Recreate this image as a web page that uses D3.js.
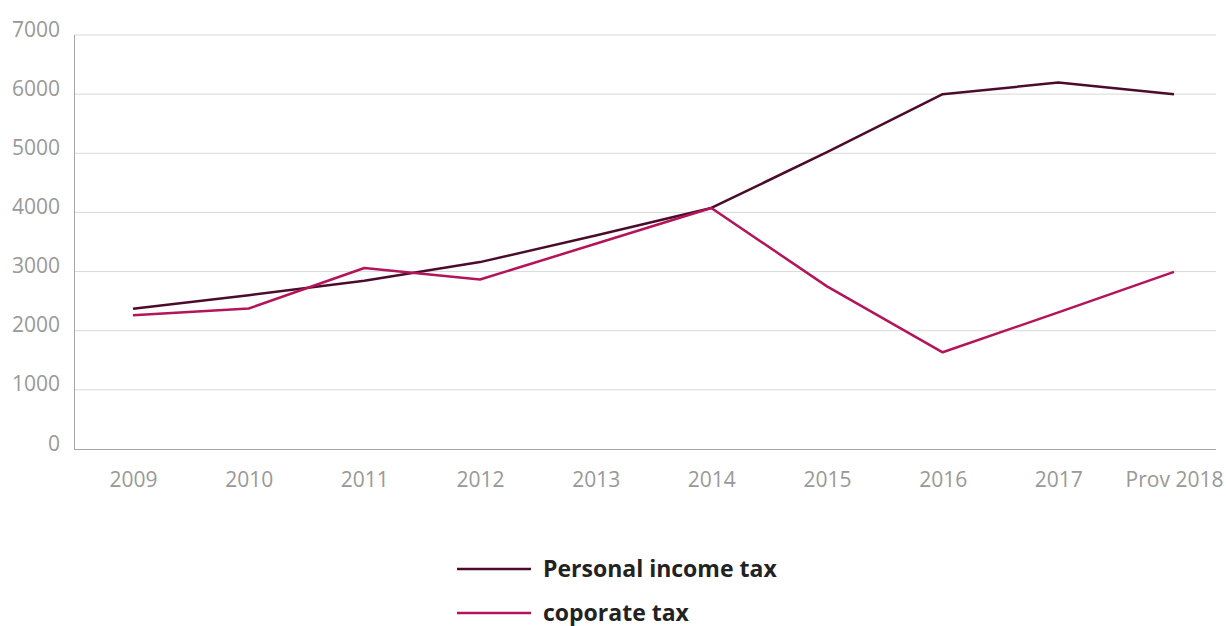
<!DOCTYPE html>
<html>
<head>
<meta charset="utf-8">
<script src="https://cdn.jsdelivr.net/npm/d3@7"></script>
<style>
  html, body { margin: 0; padding: 0; background: #fff; }
  svg { display: block; }
</style>
</head>
<body>
<svg id="chart" width="1226" height="626"></svg>
<script>
const categories = ["2009", "2010", "2011", "2012", "2013", "2014", "2015", "2016", "2017", "Prov 2018"];
const personalIncomeTax = [2370, 2600, 2845, 3160, 3610, 4075, 5020, 6000, 6195, 6000];
const corporateTax = [2260, 2375, 3060, 2865, 3470, 4075, 2750, 1635, 2310, 2995];
const yTicks = [0, 1000, 2000, 3000, 4000, 5000, 6000, 7000];
const seriesNames = ["Personal income tax", "coporate tax"];
const seriesColors = ["#4b0c2c", "#b3145a"];

const svg = d3.select("#chart");
const plotLeft = 74, plotRight = 1216, plotTop = 35, plotBottom = 449;

const x = d3.scalePoint().domain(categories).range([133, 1174]);
const y = d3.scaleLinear().domain([0, 7000]).range([plotBottom, plotTop]);

// gridlines
svg.append("g").selectAll("line").data(yTicks.filter(d => d > 0)).join("line")
  .attr("x1", plotLeft).attr("x2", plotRight)
  .attr("y1", d => y(d)).attr("y2", d => y(d))
  .attr("stroke", "#d9d9d9").attr("stroke-width", 1);

// axis lines
svg.append("line").attr("x1", plotLeft + 0.5).attr("x2", plotLeft + 0.5)
  .attr("y1", plotTop).attr("y2", plotBottom)
  .attr("stroke", "#a6a6a6").attr("stroke-width", 1);
svg.append("line").attr("x1", plotLeft).attr("x2", plotRight)
  .attr("y1", plotBottom + 0.5).attr("y2", plotBottom + 0.5)
  .attr("stroke", "#a6a6a6").attr("stroke-width", 1);

// y labels
const yAxis = d3.axisLeft(y).tickValues(yTicks).tickSize(0).tickPadding(0).tickFormat(d3.format("d"));
const gy = svg.append("g").attr("transform", `translate(60,0)`).call(yAxis);
gy.select(".domain").remove();
gy.selectAll("text")
  .attr("font-family", "'Open Sans', sans-serif")
  .attr("font-size", 21)
  .attr("fill", "#999")
  .attr("dy", "0.05em");

// x labels
const xAxis = d3.axisBottom(x).tickSize(0).tickPadding(0);
const gx = svg.append("g").attr("transform", `translate(0,472)`).call(xAxis);
gx.select(".domain").remove();
gx.selectAll("text")
  .attr("font-family", "'Open Sans', sans-serif")
  .attr("font-size", 21)
  .attr("fill", "#999")
  .attr("dy", "0.71em");

// lines
const line = d3.line().x((d, i) => x(categories[i])).y(d => y(d));
[personalIncomeTax, corporateTax].forEach((s, i) => {
  svg.append("path").datum(s)
    .attr("fill", "none")
    .attr("stroke", seriesColors[i])
    .attr("stroke-width", 2.5)
    .attr("stroke-linejoin", "round")
    .attr("d", line);
});

// legend
const legendY = [569, 613];
seriesNames.forEach((name, i) => {
  svg.append("line").attr("x1", 457).attr("x2", 531)
    .attr("y1", legendY[i]).attr("y2", legendY[i])
    .attr("stroke", seriesColors[i]).attr("stroke-width", 2.5);
  svg.append("text").attr("x", 543).attr("y", legendY[i] + 8)
    .attr("font-family", "'Open Sans', sans-serif")
    .attr("font-weight", "bold")
    .attr("font-size", 23)
    .attr("fill", "#222")
    .text(name);
});
</script>
</body>
</html>
